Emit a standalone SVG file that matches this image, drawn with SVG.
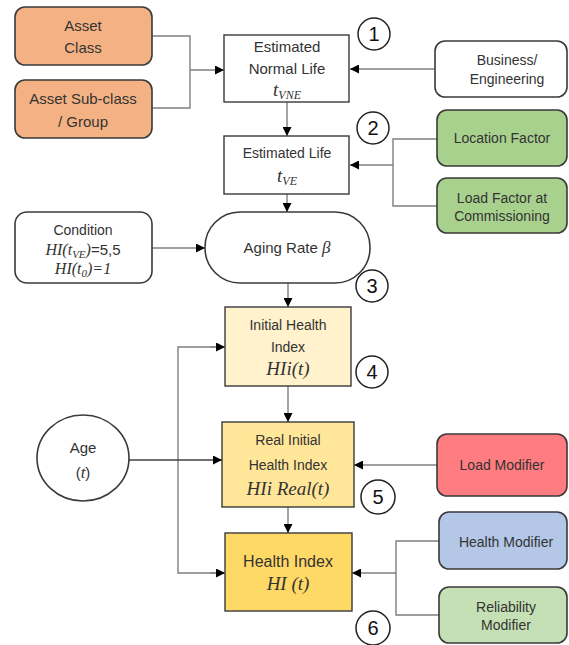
<svg xmlns="http://www.w3.org/2000/svg" width="569" height="645" viewBox="0 0 569 645">
  <defs>
    <marker id="arr" viewBox="0 0 10 10" refX="10" refY="5" markerWidth="9" markerHeight="9" markerUnits="userSpaceOnUse" orient="auto">
      <path d="M0,0 L10,5 L0,10 z" fill="#000"/>
    </marker>
    <style>
      .lbl { font-family: "Liberation Sans", Arial, sans-serif; font-size: 15px; fill: #333; text-anchor: middle; }
      .sm { font-size: 14px; }
      .math { font-family: "Liberation Serif", "Times New Roman", serif; font-style: italic; font-size: 19px; fill: #333; text-anchor: middle; }
      .sub { font-size: 12px; }
      .num { font-family: "Liberation Sans", Arial, sans-serif; font-size: 20px; fill: #111; text-anchor: middle; }
      .rbox { stroke: #3a3a3a; stroke-width: 1.6; }
      .sbox { stroke: #3a3a3a; stroke-width: 1.4; }
      .badge { fill: #fff; stroke: #222; stroke-width: 1.5; }
      .conn { fill: none; stroke: #7f7f7f; stroke-width: 1.4; }
      .dark { stroke: #404040; }
    </style>
  </defs>
  <rect width="569" height="645" fill="#fff"/>

  <!-- connectors -->
  <g id="connectors">
    <polyline class="conn" points="152,36 190,36 190,108 152,108"/>
    <line class="conn" x1="190" y1="70" x2="224" y2="70" marker-end="url(#arr)"/>
    <line class="conn" x1="435" y1="69" x2="350" y2="69" marker-end="url(#arr)"/>
    <line class="conn" x1="287" y1="102" x2="287" y2="136" marker-end="url(#arr)"/>
    <polyline class="conn" points="437,139 393,139 393,206 437,206"/>
    <line class="conn" x1="393" y1="165" x2="350" y2="165" marker-end="url(#arr)"/>
    <line class="conn" x1="287" y1="194" x2="287" y2="212" marker-end="url(#arr)"/>
    <line class="conn" x1="152" y1="248" x2="205" y2="248" marker-end="url(#arr)"/>
    <line class="conn" x1="288" y1="283" x2="288" y2="307" marker-end="url(#arr)"/>
    <line class="conn" x1="288" y1="386" x2="288" y2="422" marker-end="url(#arr)"/>
    <line class="conn" x1="288" y1="507" x2="288" y2="533" marker-end="url(#arr)"/>
    <polyline class="conn" points="222,347 178,347 178,573 224,573"/>
    <line class="conn" x1="210" y1="347" x2="225" y2="347" marker-end="url(#arr)"/>
    <line class="conn" x1="210" y1="573" x2="225" y2="573" marker-end="url(#arr)"/>
    <line class="conn dark" x1="129" y1="460" x2="222" y2="460" marker-end="url(#arr)"/>
    <line class="conn" x1="437" y1="465" x2="354" y2="465" marker-end="url(#arr)"/>
    <polyline class="conn" points="439,541 396,541 396,615 439,615"/>
    <line class="conn" x1="396" y1="573" x2="352" y2="573" marker-end="url(#arr)"/>
  </g>

  <g id="asset-class">
    <rect class="rbox" x="15" y="7" width="137" height="58" rx="10" fill="#f4b183"/>
    <text class="lbl" x="83" y="31">Asset</text>
    <text class="lbl" x="83" y="53">Class</text>
  </g>
  <g id="asset-subclass">
    <rect class="rbox" x="15" y="80" width="137" height="58" rx="10" fill="#f4b183"/>
    <text class="lbl" x="83" y="104">Asset Sub-class</text>
    <text class="lbl" x="83" y="127">/ Group</text>
  </g>

  <g id="normal-life">
    <rect class="sbox" x="224" y="35" width="125" height="67" fill="#fff"/>
    <text class="lbl" x="287" y="52">Estimated</text>
    <text class="lbl" x="287" y="74">Normal Life</text>
    <text class="math" x="287" y="96">t<tspan class="sub" dy="3">VNE</tspan></text>
  </g>
  <g id="badge-1">
    <circle class="badge" cx="374" cy="34" r="16"/>
    <text class="num" x="374" y="41">1</text>
  </g>
  <g id="business">
    <rect class="rbox" x="435" y="41" width="132" height="56" rx="10" fill="#fff"/>
    <text class="lbl sm" x="507" y="65">Business/</text>
    <text class="lbl sm" x="507" y="84">Engineering</text>
  </g>

  <g id="estimated-life">
    <rect class="sbox" x="224" y="136" width="125" height="58" fill="#fff"/>
    <text class="lbl sm" x="287" y="158">Estimated Life</text>
    <text class="math" x="287" y="182">t<tspan class="sub" dy="3">VE</tspan></text>
  </g>
  <g id="badge-2">
    <circle class="badge" cx="373" cy="128" r="16"/>
    <text class="num" x="373" y="135">2</text>
  </g>
  <g id="location-factor">
    <rect class="rbox" x="437" y="110" width="130" height="56" rx="10" fill="#a9d18e"/>
    <text class="lbl sm" x="502" y="143">Location Factor</text>
  </g>
  <g id="load-factor">
    <rect class="rbox" x="437" y="178" width="130" height="55" rx="10" fill="#a9d18e"/>
    <text class="lbl sm" x="502" y="203">Load Factor at</text>
    <text class="lbl sm" x="502" y="221">Commissioning</text>
  </g>

  <g id="condition">
    <rect class="rbox" x="15" y="212" width="137" height="71" rx="12" fill="#fff"/>
    <text class="lbl sm" x="83" y="235">Condition</text>
    <text class="math" x="83" y="255" style="font-size:16px">HI(t<tspan class="sub" dy="3" style="font-size:11px">VE</tspan><tspan dy="-3">)</tspan><tspan font-style="normal" font-family="Liberation Sans, sans-serif" font-size="15">=5,5</tspan></text>
    <text class="math" x="83" y="274" style="font-size:16px">HI(t<tspan class="sub" dy="3" style="font-size:11px">0</tspan><tspan dy="-3">)=1</tspan></text>
  </g>
  <g id="aging-rate">
    <rect class="rbox" x="205" y="212" width="165" height="71" rx="35" fill="#fff"/>
    <text class="lbl" x="287" y="253">Aging Rate <tspan font-family="Liberation Serif, serif" font-style="italic" font-size="17">β</tspan></text>
  </g>
  <g id="badge-3">
    <circle class="badge" cx="372" cy="286" r="16"/>
    <text class="num" x="372" y="293">3</text>
  </g>

  <g id="initial-hi">
    <rect class="sbox" x="225" y="307" width="126" height="79" fill="#fff2cc"/>
    <text class="lbl sm" x="288" y="330">Initial Health</text>
    <text class="lbl sm" x="288" y="352">Index</text>
    <text class="math" x="288" y="375">HIi(t)</text>
  </g>
  <g id="badge-4">
    <circle class="badge" cx="372" cy="372" r="16"/>
    <text class="num" x="372" y="379">4</text>
  </g>

  <g id="age">
    <ellipse cx="83" cy="458" rx="46" ry="43" fill="#fff" stroke="#3a3a3a" stroke-width="1.6"/>
    <text class="lbl" x="83" y="453" font-size="16">Age</text>
    <text class="lbl" x="83" y="478" font-size="16">(<tspan font-family="Liberation Serif, serif" font-style="italic" font-size="17">t</tspan>)</text>
  </g>

  <g id="real-initial-hi">
    <rect class="sbox" x="222" y="422" width="132" height="85" fill="#ffe699"/>
    <text class="lbl sm" x="288" y="445">Real Initial</text>
    <text class="lbl sm" x="288" y="470">Health Index</text>
    <text class="math" x="288" y="495">HIi Real(t)</text>
  </g>
  <g id="badge-5">
    <circle class="badge" cx="378" cy="497" r="17"/>
    <text class="num" x="378" y="504">5</text>
  </g>
  <g id="load-modifier">
    <rect class="rbox" x="437" y="434" width="130" height="62" rx="10" fill="#ff7c80"/>
    <text class="lbl sm" x="502" y="470">Load Modifier</text>
  </g>

  <g id="health-index">
    <rect class="sbox" x="225" y="533" width="127" height="78" fill="#ffd966"/>
    <text class="lbl" x="288" y="567" style="font-size:16px">Health Index</text>
    <text class="math" x="288" y="590">HI (t)</text>
  </g>
  <g id="badge-6">
    <circle class="badge" cx="373" cy="628" r="17"/>
    <text class="num" x="373" y="635">6</text>
  </g>
  <g id="health-modifier">
    <rect class="rbox" x="439" y="512" width="128" height="57" rx="10" fill="#b4c7e7"/>
    <text class="lbl sm" x="506" y="547">Health Modifier</text>
  </g>
  <g id="reliability-modifier">
    <rect class="rbox" x="439" y="587" width="128" height="56" rx="10" fill="#c5e0b4"/>
    <text class="lbl sm" x="506" y="612">Reliability</text>
    <text class="lbl sm" x="506" y="630">Modifier</text>
  </g>
</svg>
